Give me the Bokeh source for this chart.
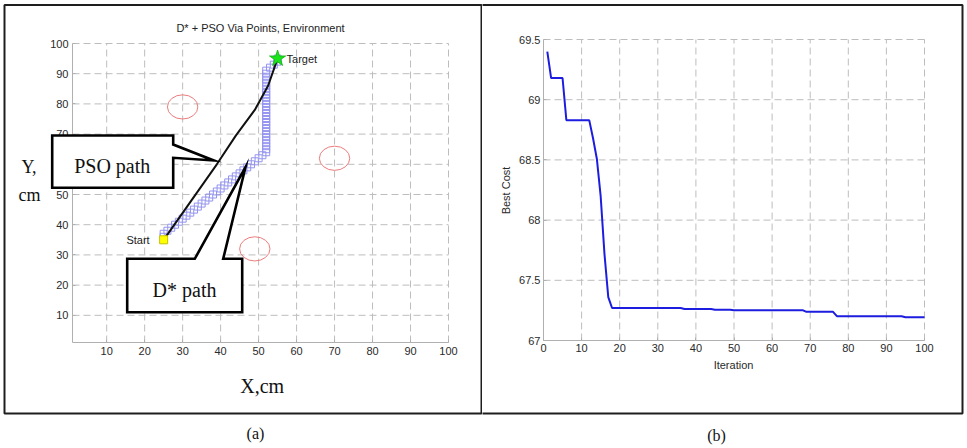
import math

from bokeh.plotting import figure
from bokeh.layouts import row
from bokeh.models import FixedTicker, Label, BoxAnnotation, PolyAnnotation, Range1d
from bokeh.embed import file_html
from bokeh.resources import INLINE

# ---------------- data: (a) environment ----------------
obstacle_x = [30, 70, 49]
obstacle_y = [79, 62, 32]
obstacle_d = [8, 8, 8]          # obstacle diameter, cm

start_x, start_y = [25], [35]
target_x, target_y = [55], [95]

# PSO path through its via points
pso_x = [25, 32, 39, 44, 49, 52.5, 55]
pso_y = [35, 47.5, 60, 69.5, 78, 86, 95]

# D* path, one entry per grid cell visited
dstar_x = [25, 25, 25,
           26, 27, 28, 29, 30, 31, 32, 33, 34, 35, 36, 37, 38, 39, 40,
           41, 42, 43, 44, 45, 46, 47, 48, 49, 50, 51, 52,
           52, 52, 52, 52, 52, 52, 52, 52, 52, 52, 52, 52, 52, 52,
           52, 52, 52, 52, 52, 52, 52, 52, 52, 52, 52, 52, 52,
           53, 54, 55, 55]
dstar_y = [35, 36, 37,
           38, 39, 40, 41, 42, 43, 44, 45, 46, 47, 48, 49, 50, 51, 52,
           53, 54, 55, 56, 57, 58, 59, 60, 61, 62, 63, 64,
           65, 66, 67, 68, 69, 70, 71, 72, 73, 74, 75, 76, 77, 78,
           79, 80, 81, 82, 83, 84, 85, 86, 87, 88, 89, 90, 91,
           92, 93, 94, 95]

env_lim = (1, 100)
env_ticks = [10, 20, 30, 40, 50, 60, 70, 80, 90, 100]

# ---------------- data: (b) convergence ----------------
iterations = list(range(1, 101))
best_cost = [
    69.40, 69.18, 69.18, 69.18, 69.18, 68.83, 68.83, 68.83, 68.83, 68.83,
    68.83, 68.83, 68.68, 68.51, 68.20, 67.72, 67.36, 67.27, 67.27, 67.27,
    67.27, 67.27, 67.27, 67.27, 67.27, 67.27, 67.27, 67.27, 67.27, 67.27,
    67.27, 67.27, 67.27, 67.27, 67.27, 67.27, 67.262, 67.262, 67.262, 67.262,
    67.262, 67.262, 67.262, 67.262, 67.256, 67.256, 67.256, 67.256, 67.256, 67.252,
    67.252, 67.252, 67.252, 67.252, 67.252, 67.252, 67.252, 67.252, 67.252, 67.252,
    67.252, 67.252, 67.252, 67.252, 67.252, 67.252, 67.252, 67.252, 67.238, 67.238,
    67.238, 67.238, 67.238, 67.238, 67.238, 67.238, 67.202, 67.202, 67.202, 67.202,
    67.202, 67.202, 67.202, 67.202, 67.202, 67.202, 67.202, 67.202, 67.202, 67.202,
    67.202, 67.202, 67.202, 67.202, 67.193, 67.193, 67.193, 67.193, 67.193, 67.193,
]
iter_lim = (0, 100)
cost_lim = (67, 69.5)
iter_ticks = [0, 10, 20, 30, 40, 50, 60, 70, 80, 90, 100]
cost_ticks = [67, 67.5, 68, 68.5, 69, 69.5]
cost_tick_labels = ["67", "67.5", "68", "68.5", "69", "69.5"]

SANS = "Liberation Sans"
SERIF = "Liberation Serif"
GRID = "#bdbdbd"
AXIS = "#b0b0b0"
TICK_TXT = "#2a2a2a"
BORDER = "#1e1e1e"


def pixel_mapper(fl, fr, ft, fb, xr, yr):
    """Linear map from canvas pixels to data units, given where the axes box sits."""
    def fx(px):
        return xr[0] + (px - fl) / (fr - fl) * (xr[1] - xr[0])

    def fy(py):
        return yr[0] + (fb - py) / (fb - ft) * (yr[1] - yr[0])
    return fx, fy


def make_panel(w, h, fx, fy, xlim, ylim, xticks, yticks, grid_x, grid_y):
    """A canvas-filling figure whose axes sit at the edges of the data box."""
    p = figure(width=w, height=h,
               x_range=Range1d(fx(0), fx(w)), y_range=Range1d(fy(h), fy(0)),
               output_backend="svg", toolbar_location=None,
               min_border=0, min_border_left=0, min_border_right=0,
               min_border_top=0, min_border_bottom=0)
    p.background_fill_color = "white"
    p.border_fill_color = "white"
    p.outline_line_color = None
    p.xgrid.visible = False
    p.ygrid.visible = False

    # dashed grid restricted to the data box
    p.segment(x0=grid_x, y0=[ylim[0]] * len(grid_x), x1=grid_x, y1=[ylim[1]] * len(grid_x),
              line_color=GRID, line_width=1, line_dash="7 4")
    p.segment(x0=[xlim[0]] * len(grid_y), y0=grid_y, x1=[xlim[1]] * len(grid_y), y1=grid_y,
              line_color=GRID, line_width=1, line_dash="7 4")

    p.xaxis.fixed_location = ylim[0]
    p.yaxis.fixed_location = xlim[0]
    p.xaxis.bounds = xlim
    p.yaxis.bounds = ylim
    p.xaxis.ticker = FixedTicker(ticks=xticks)
    p.yaxis.ticker = FixedTicker(ticks=yticks)
    for ax in (p.xaxis[0], p.yaxis[0]):
        ax.axis_line_color = AXIS
        ax.major_tick_line_color = AXIS
        ax.major_tick_in = 3
        ax.major_tick_out = 0
        ax.minor_tick_line_color = None
        ax.major_label_text_font = SANS
        ax.major_label_text_font_size = "11px"
        ax.major_label_text_color = TICK_TXT
        ax.major_label_standoff = 4
    return p


def add_label(p, x, y, text, font, size, align="center", color="#111111", angle=0.0):
    p.add_layout(Label(x=x, y=y, text=text, text_font=font, text_font_size=size,
                       text_align=align, text_baseline="middle", text_color=color,
                       angle=angle))


# ================= panel (a) =================
AW, AH = 482, 448
ax_, ay_ = pixel_mapper(72, 448, 43, 342, env_lim, env_lim)
pa = make_panel(AW, AH, ax_, ay_, env_lim, env_lim, env_ticks, env_ticks,
                env_ticks, env_ticks)

# obstacles
pa.ellipse(obstacle_x, obstacle_y, width=obstacle_d, height=obstacle_d,
           fill_color=None, line_color="#ec7c7c", line_width=1)
# D* path cells
pa.scatter(dstar_x, dstar_y, marker="square", size=7, fill_color=None,
           line_color="#9494f0", line_width=1)
# PSO path
pa.line(pso_x, pso_y, line_color="#111111", line_width=2)
# start / target
pa.scatter(start_x, start_y, marker="square", size=8, fill_color="#ffff00",
           line_color="#c9c900", line_width=1)
pa.scatter(target_x, target_y, marker="star", size=17, fill_color="#19e619",
           line_color="#12b012", line_width=0.8)

pa.add_layout(Label(x=start_x[0], y=start_y[0], x_offset=-14, text="Start",
                    text_font=SANS, text_font_size="11px", text_align="right",
                    text_baseline="middle", text_color="#1a1a1a"))
pa.add_layout(Label(x=target_x[0], y=target_y[0], x_offset=9, text="Target",
                    text_font=SANS, text_font_size="11px", text_align="left",
                    text_baseline="middle", text_color="#1a1a1a"))

# callouts
pso_box = [(51.7, 135), (172.7, 135), (172.7, 144), (213.3, 160), (172.7, 157.3),
           (172.7, 187.3), (51.7, 187.3)]
dstar_box = [(126.7, 258.3), (194.3, 258.3), (245, 166.7), (222.7, 258.3),
             (241.7, 258.3), (241.7, 311.7), (126.7, 311.7)]
for shape in (pso_box, dstar_box):
    pa.add_layout(PolyAnnotation(xs=[ax_(px) for px, _ in shape],
                                 ys=[ay_(py) for _, py in shape],
                                 fill_color="white", fill_alpha=1.0,
                                 line_color="#000000", line_alpha=1.0, line_width=2.6,
                                 line_join="miter"))
add_label(pa, ax_(111.7), ay_(165.7), "PSO path", SERIF, "20px")
add_label(pa, ax_(184), ay_(289.3), "D* path", SERIF, "20px")

add_label(pa, ax_(260), ay_(27), "D* + PSO Via Points, Environment", SANS, "11px",
          color="#222222")
add_label(pa, ax_(261.7), ay_(385), "X,cm", SERIF, "20px")
add_label(pa, ax_(28.5), ay_(166.5), "Y,", SERIF, "18px")
add_label(pa, ax_(29), ay_(194.3), "cm", SERIF, "18px")
add_label(pa, ax_(255), ay_(433), "(a)", SERIF, "16px")

# panel frame
pa.add_layout(BoxAnnotation(left=ax_(4), right=ax_(481), top=ay_(4.5), bottom=ay_(413),
                            fill_alpha=0, line_color=BORDER, line_alpha=1.0, line_width=2))

# ================= panel (b) =================
BW, BH = 485, 448
bx_, by_ = pixel_mapper(61, 442, 39, 340, iter_lim, cost_lim)
pb = make_panel(BW, BH, bx_, by_, iter_lim, cost_lim, iter_ticks, cost_ticks,
                iter_ticks[1:], cost_ticks[1:])
pb.yaxis.major_label_overrides = dict(zip(cost_ticks, cost_tick_labels))
pb.yaxis.major_label_standoff = 3
pb.xaxis.major_label_standoff = 3

pb.line(iterations, best_cost, line_color="#1d1de0", line_width=2)

add_label(pb, bx_(251), by_(364), "Iteration", SANS, "11px", color=TICK_TXT)
add_label(pb, bx_(23), by_(190), "Best Cost", SANS, "11px", color=TICK_TXT,
          angle=math.pi / 2)
add_label(pb, bx_(234), by_(435), "(b)", SERIF, "16px")
pb.add_layout(BoxAnnotation(left=bx_(-6), right=bx_(480), top=by_(4.5), bottom=by_(413),
                            fill_alpha=0, line_color=BORDER, line_alpha=1.0, line_width=2))

layout = row(pa, pb, spacing=0)
open("out.html", "w").write(file_html(layout, INLINE))
